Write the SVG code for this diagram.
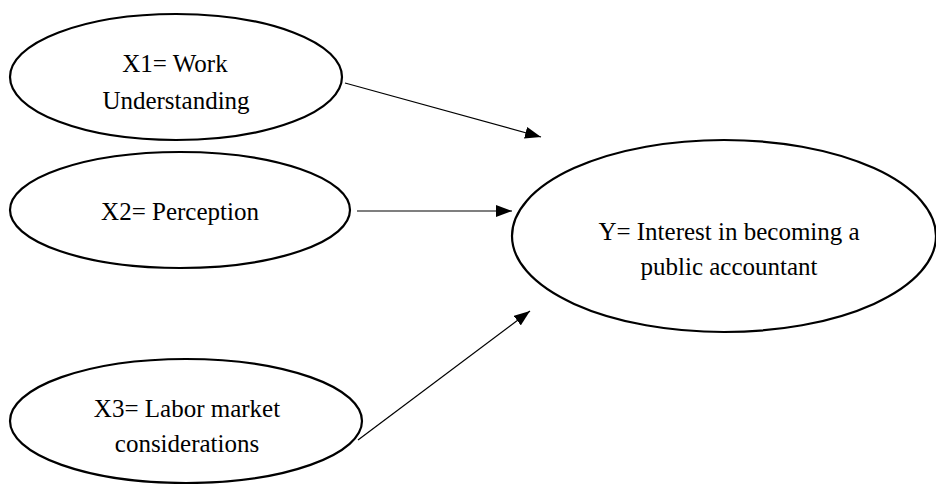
<svg xmlns="http://www.w3.org/2000/svg" width="936" height="484" viewBox="0 0 936 484">
<style>
.node ellipse{fill:#fff;stroke:#000;stroke-width:2.2}
.node text{font-family:"Liberation Serif","DejaVu Serif",serif;font-size:25px;fill:#000;text-anchor:middle}
.conn line{stroke:#000;stroke-width:1.2;fill:none}
</style>
<defs>
<marker id="ah" viewBox="0 0 16 12" refX="16" refY="6" markerWidth="16" markerHeight="12" markerUnits="userSpaceOnUse" orient="auto">
<path d="M0,0 L16,6 L0,12 Z" fill="#000"/>
</marker>
</defs>
<rect width="936" height="484" fill="#fff"/>
<g id="connectors" class="conn">
<line x1="345" y1="83" x2="541" y2="137" marker-end="url(#ah)"/>
<line x1="357" y1="211" x2="512" y2="211" marker-end="url(#ah)"/>
<line x1="358" y1="440" x2="530" y2="311" marker-end="url(#ah)"/>
</g>
<g id="X1" class="node">
<ellipse cx="176" cy="77" rx="166" ry="63"/>
<text x="175" y="72">X1= Work</text>
<text x="176" y="109">Understanding</text>
</g>
<g id="X2" class="node">
<ellipse cx="180" cy="210" rx="170" ry="58"/>
<text x="180" y="220">X2= Perception</text>
</g>
<g id="X3" class="node">
<ellipse cx="186" cy="421" rx="176" ry="62"/>
<text x="187" y="417">X3= Labor market</text>
<text x="187" y="452">considerations</text>
</g>
<g id="Y" class="node">
<ellipse cx="724" cy="236" rx="212" ry="96"/>
<text x="729" y="240">Y= Interest in becoming a</text>
<text x="729" y="275">public accountant</text>
</g>
</svg>
